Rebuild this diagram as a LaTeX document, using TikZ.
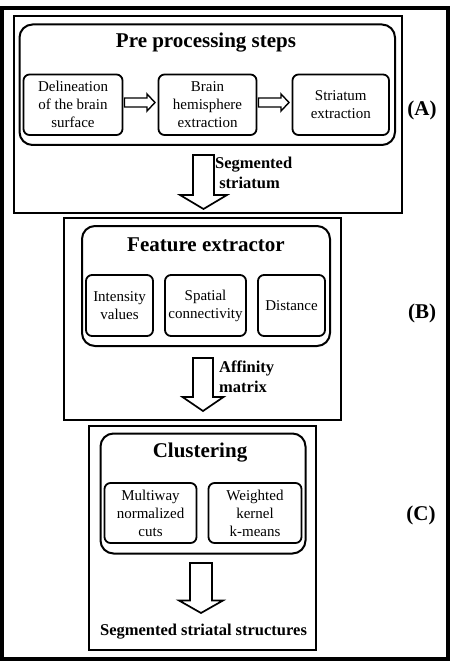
\documentclass[tikz,border=0pt]{standalone}
\usepackage{fontspec}
\setmainfont{Liberation Serif}
\usetikzlibrary{calc}
\tikzset{
  frame/.style={draw, line width=2pt},
  rbox/.style={draw, line width=2pt, rounded corners=13pt},
  stepbox/.style={draw, line width=1.8pt, rounded corners=6pt, inner sep=0pt, align=center,
    font=\fontsize{15}{18}\selectfont},
  ttl/.style={font=\fontsize{21}{24}\bfseries\selectfont, inner sep=0pt},
  lbl/.style={font=\fontsize{16.5}{20}\bfseries\selectfont, inner sep=0pt, align=left, anchor=west},
  blk/.style={draw, line width=1.7pt, fill=white, line join=miter},
}
% vertical block arrow: #1 top coord, #2 tip coord, #3 shaft half, #4 head half, #5 head length
\newcommand{\blkdown}[5]{%
  \draw[blk] let \p1=(#1), \p2=(#2) in
    (\x1-#3,\y1) -- (\x1+#3,\y1) -- (\x1+#3,\y2+#5) -- (\x1+#4,\y2+#5) -- (\x1,\y2)
    -- (\x1-#4,\y2+#5) -- (\x1-#3,\y2+#5) -- cycle;}
% horizontal block arrow: #1 start coord, #2 tip coord
\newcommand{\blkright}[5]{%
  \draw[blk, line width=1.4pt] let \p1=(#1), \p2=(#2) in
    (\x1,\y1+#3) -- (\x2-#5,\y1+#3) -- (\x2-#5,\y1+#4) -- (\x2,\y1) -- (\x2-#5,\y1-#4)
    -- (\x2-#5,\y1-#3) -- (\x1,\y1-#3) -- cycle;}
\begin{document}
\begin{tikzpicture}[x=1pt,y=-1pt]
\useasboundingbox (0,0) rectangle (452,663);
% outer frame
\draw[line width=4pt] (2,8) rectangle (448,658.5);

% ---------- (A) ----------
\draw[frame] (13.5,16.5) rectangle (402,212.5);
\draw[rbox] (19.5,24.5) rectangle (395,145);
\node[ttl] (tA) at (206,43) {Pre processing steps};
\node[stepbox, minimum width=99pt, minimum height=60.5pt] (a1) at (73,104.75)
  {Delineation\\of the brain\\surface};
\node[stepbox, minimum width=98pt, minimum height=60.5pt] (a2) at (207.5,104.75)
  {Brain\\hemisphere\\extraction};
\node[stepbox, minimum width=96.5pt, minimum height=60.5pt] (a3) at (340.75,104.75)
  {Striatum\\extraction};
\coordinate (h1s) at (124.5,102.5);
\coordinate (h1e) at (155,102.5);
\coordinate (h2s) at (258.5,102.5);
\coordinate (h2e) at (289,102.5);
\blkright{h1s}{h1e}{4.5}{8.5}{8}
\blkright{h2s}{h2e}{4.5}{8.5}{8}
\coordinate (sAt) at (203.5,155);
\coordinate (sAe) at (203.5,209);
\blkdown{sAt}{sAe}{10.5}{23.5}{14}
\node[lbl] (lA) at (215,173) {Segmented\\\ striatum};
\node[ttl] (A) at (422,110) {(A)};

% ---------- (B) ----------
\draw[frame] (63.5,218) rectangle (340.5,420);
\draw[rbox] (82,226) rectangle (330,346);
\node[ttl] (tB) at (206,245) {Feature extractor};
\node[stepbox, minimum width=67pt, minimum height=61pt] (b1) at (119.5,305.5)
  {Intensity\\values};
\node[stepbox, minimum width=81pt, minimum height=61pt] (b2) at (205.5,305.5)
  {Spatial\\connectivity};
\node[stepbox, minimum width=67pt, minimum height=61pt] (b3) at (291.5,305.5)
  {Distance};
\coordinate (sBt) at (203,358);
\coordinate (sBe) at (203,411);
\blkdown{sBt}{sBe}{10}{20.5}{14}
\node[lbl] (lB) at (219,377) {Affinity\\matrix};
\node[ttl] (B) at (422,313) {(B)};

% ---------- (C) ----------
\draw[frame] (88.5,425.5) rectangle (316,650);
\draw[rbox] (100.5,433.5) rectangle (305.5,553.5);
\node[ttl] (tC) at (200,453) {Clustering};
\node[stepbox, minimum width=92pt, minimum height=60pt] (c1) at (150.5,513)
  {Multiway\\normalized\\cuts};
\node[stepbox, minimum width=93pt, minimum height=60pt] (c2) at (255,513)
  {Weighted\\kernel\\k-means};
\coordinate (sCt) at (201,563);
\coordinate (sCe) at (201,613);
\blkdown{sCt}{sCe}{11}{22}{12.5}
\node[font=\fontsize{16.5}{20}\bfseries\selectfont, inner sep=0pt] (out) at (203.5,632)
  {Segmented striatal structures};
\node[ttl] (C) at (421,515) {(C)};
\end{tikzpicture}
\end{document}
